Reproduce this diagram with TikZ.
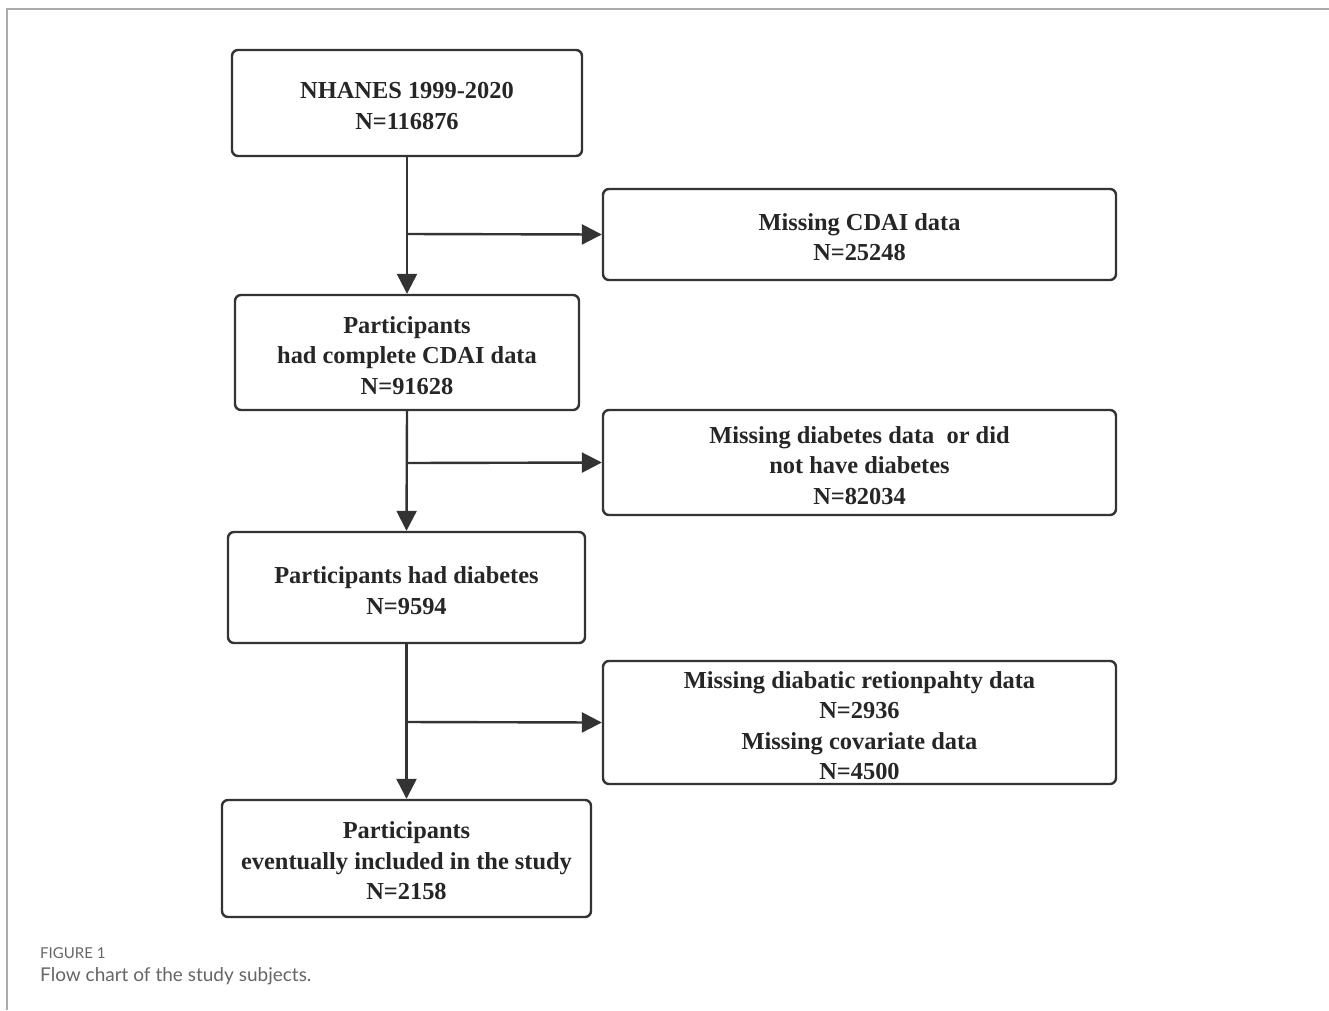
\documentclass[tikz,border=0pt]{standalone}
\usepackage{fontspec}
\setmainfont{Liberation Serif}
\newfontfamily\capfont{Lato}
\usetikzlibrary{arrows.meta}
\definecolor{boxline}{HTML}{333333}
\definecolor{framegray}{HTML}{AAAAAA}
\definecolor{capgray}{HTML}{666666}
\begin{document}
\begin{tikzpicture}[x=1pt,y=-1pt,
  flowbox/.style={draw=boxline,line width=2.4pt,rounded corners=6pt,inner sep=0pt},
  flowtext/.style={align=center,font=\fontsize{24.4}{30.5}\selectfont\bfseries,
    text=black!85,inner sep=0pt},
  conn/.style={draw=boxline,line width=2.4pt,-{Triangle[length=20pt,width=20pt]}}]
\useasboundingbox (0,0) rectangle (1329,1010);
\fill[white] (0,0) rectangle (1329,1010);
\draw[framegray,line width=1.5pt] (7,1010) -- (7,9) -- (1329,9);
% main column boxes
\node[flowbox,minimum width=350pt,minimum height=106pt] (a) at (407,103) {};
\node[flowbox,minimum width=344pt,minimum height=115pt] (b) at (407,352.5) {};
\node[flowbox,minimum width=357pt,minimum height=111pt] (c) at (406.5,587.5) {};
\node[flowbox,minimum width=369pt,minimum height=117pt] (d) at (406.5,858.5) {};
% exclusion boxes
\node[flowbox,minimum width=513pt,minimum height=91pt] (e1) at (859.5,234.5) {};
\node[flowbox,minimum width=513pt,minimum height=105pt] (e2) at (859.5,462.5) {};
\node[flowbox,minimum width=513pt,minimum height=123pt] (e3) at (859.5,722.5) {};
% texts
\node[flowtext] (ta) at ([yshift=-3pt]a.center) {NHANES 1999-2020\\N=116876};
\node[flowtext] (tb) at ([yshift=-3pt]b.center) {Participants\\had complete CDAI data\\N=91628};
\node[flowtext] (tc) at ([yshift=-3pt]c.center) {Participants had diabetes\\N=9594};
\node[flowtext] (td) at ([yshift=-2.5pt]d.center) {Participants\\eventually included in the study\\N=2158};
\node[flowtext] (te1) at ([yshift=-2.5pt]e1.center) {Missing CDAI data\\N=25248};
\node[flowtext] (te2) at ([yshift=-3pt]e2.center) {Missing diabetes data\ \ or did\\not have diabetes\\N=82034};
\node[flowtext] (te3) at ([yshift=-3pt]e3.center) {Missing diabatic retionpahty data\\N=2936\\Missing covariate data\\N=4500};
% branch points
\coordinate (p1) at (407,234);
\coordinate (p2) at (407,463);
\coordinate (p3) at (407,722);
\draw[conn] (a.south) -- (b.north);
\draw[conn] (b.south) -- (c.north);
\draw[conn] (c.south) -- (d.north);
\draw[conn] (p1) -- (e1.west);
\draw[conn] (p2) -- (e2.west);
\draw[conn] (p3) -- (e3.west);
% caption
\node[anchor=west,inner sep=0pt,text=capgray,font=\capfont\fontsize{15}{17}\selectfont] (f1) at (40,953) {FIGURE 1};
\node[anchor=west,inner sep=0pt,text=capgray,font=\capfont\fontsize{19}{22}\selectfont] (f2) at (40,976) {Flow chart of the study subjects.};
\end{tikzpicture}
\end{document}
